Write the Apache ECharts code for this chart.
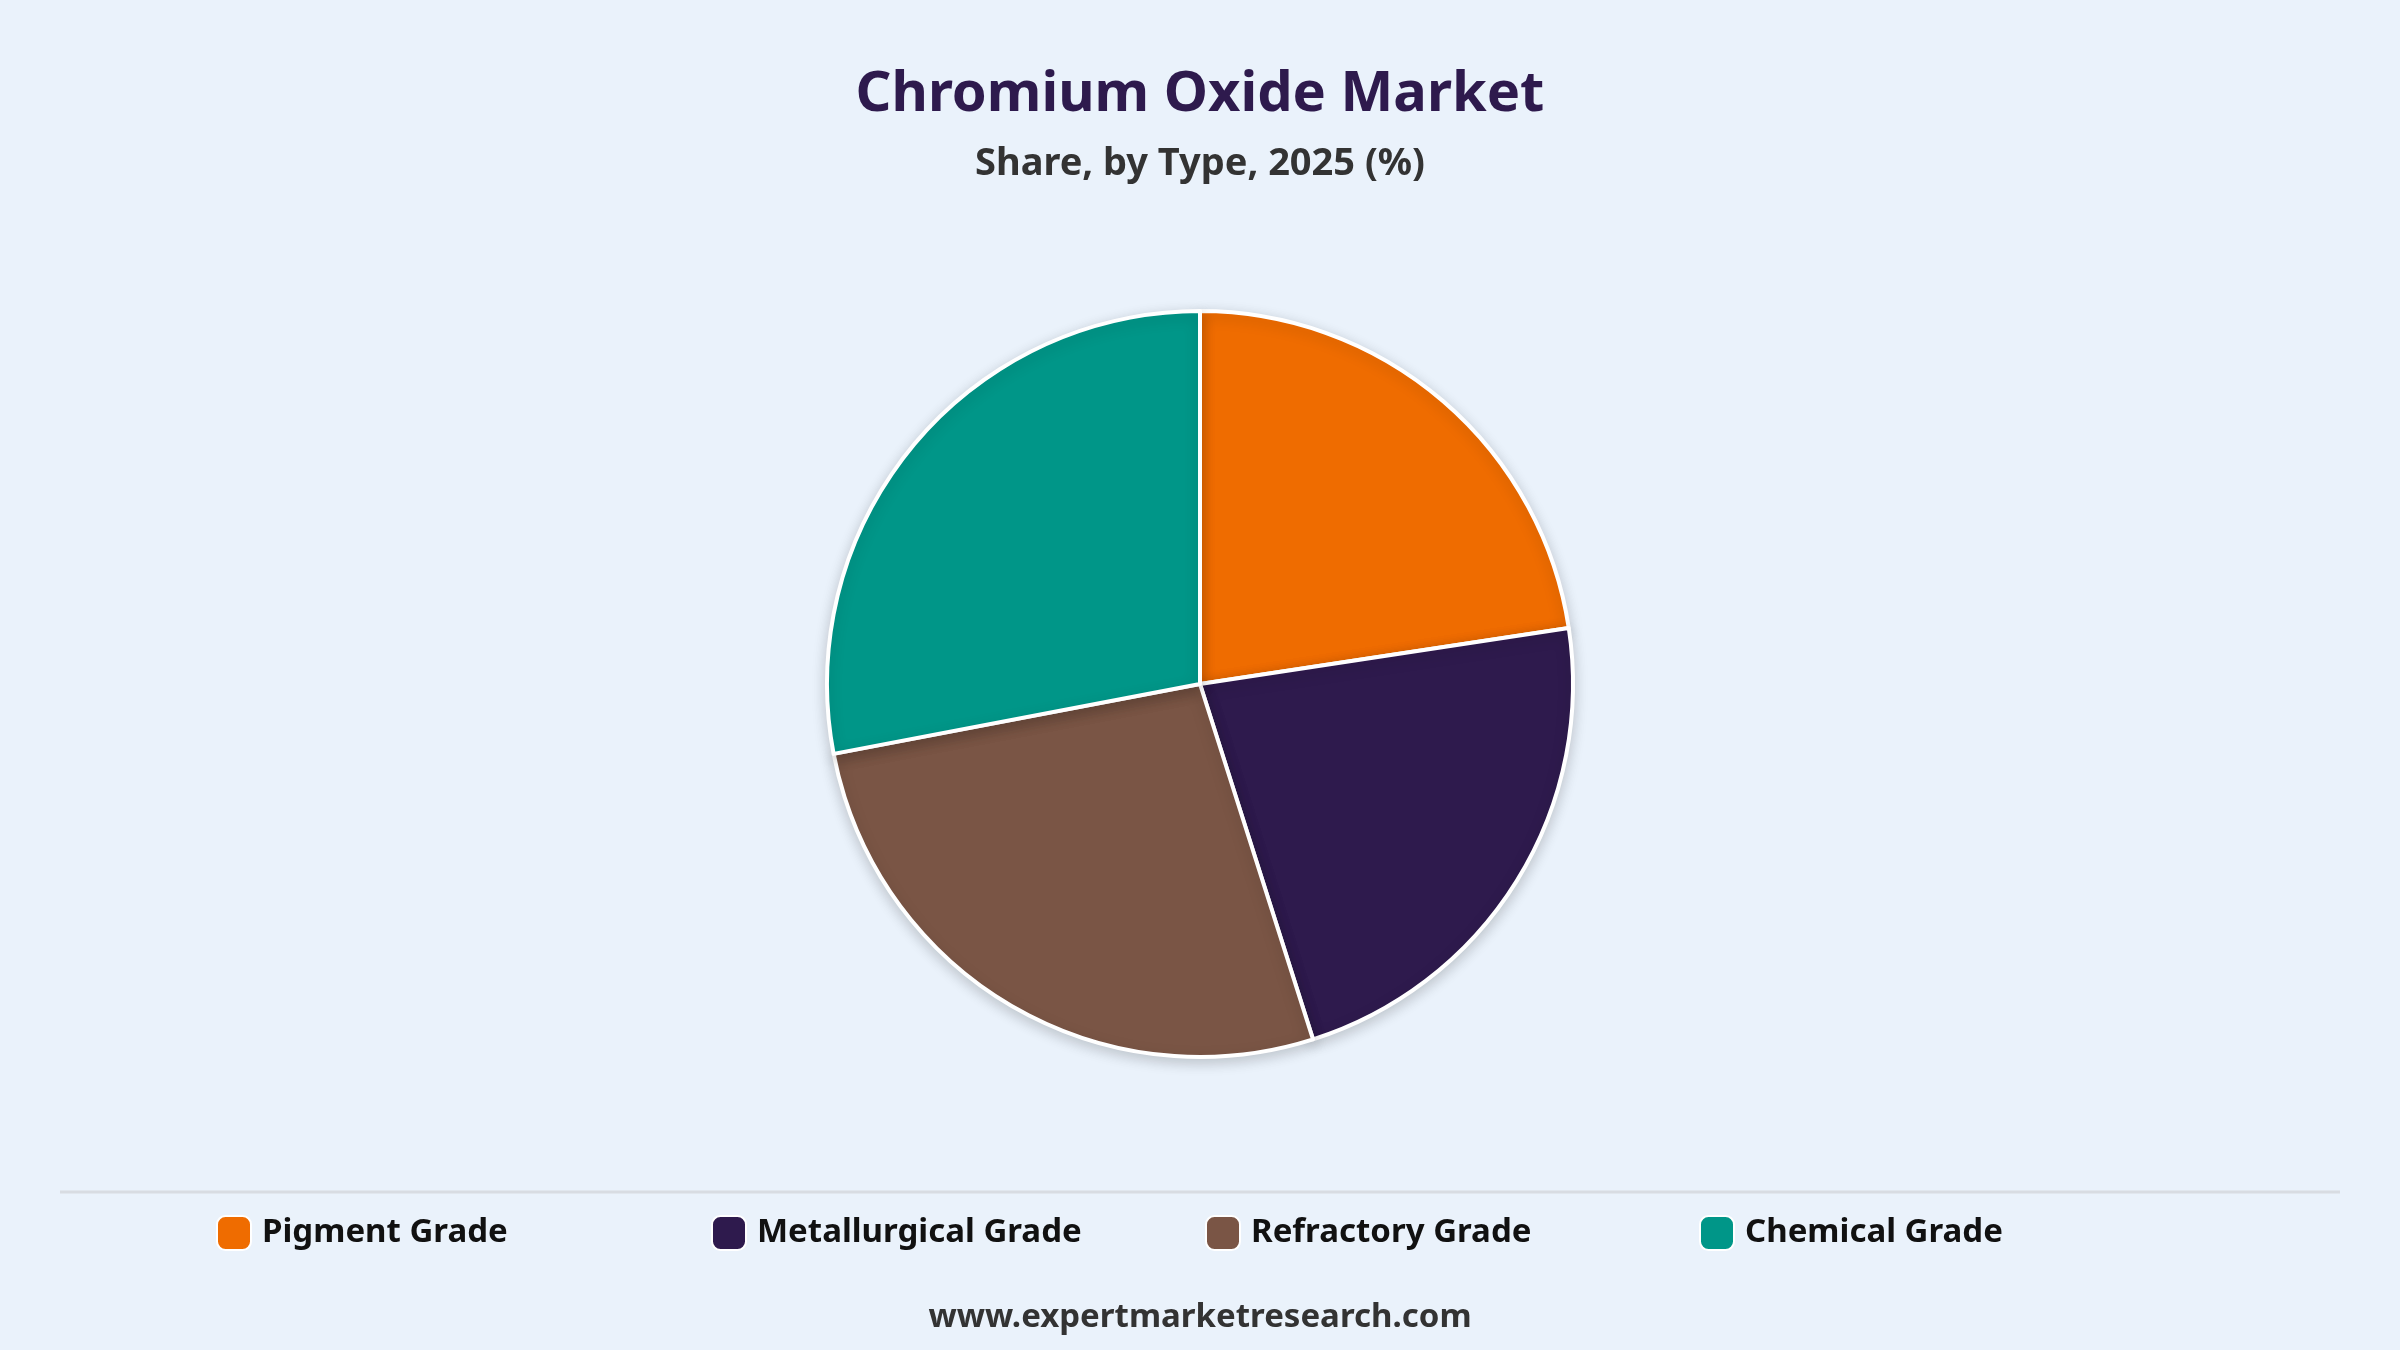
<!DOCTYPE html>
<html><head><meta charset="utf-8">
<script src="https://cdn.jsdelivr.net/npm/echarts@6/dist/echarts.min.js"></script>
<style>html,body{margin:0;padding:0;background:#EAF2FB}#c{width:2400px;height:1350px}</style>
</head><body><div id="c"></div>
<script>
const categories = ["Pigment Grade","Metallurgical Grade","Refractory Grade","Chemical Grade"];
const values = [22.6, 22.5, 26.9, 28.0];
const colors = ["#EF6C00","#2E1A4D","#7A5545","#009688"];
const legendX = [211, 706, 1200, 1694];
const F = '"Noto Sans", "Open Sans", sans-serif';
const chart = echarts.init(document.getElementById('c'));
chart.setOption({
  backgroundColor:'#EAF2FB',
  color: colors,
  title:[
    {text:'Chromium Oxide Market',left:'center',top:62,textStyle:{fontFamily:F,fontSize:56,fontWeight:'bold',color:'#2E1A4D'}},
    {text:'Share, by Type, 2025 (%)',left:'center',top:140,textStyle:{fontFamily:F,fontSize:38,fontWeight:'bold',color:'#333'}},
    {text:'www.expertmarketresearch.com',left:'center',top:1296,textStyle:{fontFamily:F,fontSize:33,fontWeight:'bold',color:'#333'}}
  ],
  legend: categories.map((c,i)=>({
    data:[c], left:legendX[i], top:1210, icon:'roundRect', itemWidth:34, itemHeight:34,
    selectedMode:false,
    textStyle:{fontFamily:F,fontSize:33,fontWeight:'bold',color:'#111',padding:[0,0,0,6]}
  })),
  graphic:[{type:'line',shape:{x1:60,y1:1192,x2:2340,y2:1192},style:{stroke:'#D8DCE2',lineWidth:3}}],
  series:[{
    type:'pie', center:[1200,684], radius:[0,373], startAngle:90, clockwise:true,
    label:{show:false}, labelLine:{show:false}, silent:true,
    itemStyle:{borderColor:'#fff',borderWidth:4,shadowBlur:14,shadowColor:'rgba(0,0,0,0.18)',shadowOffsetY:4},
    data: categories.map((c,i)=>({name:c,value:values[i]}))
  }]
});
</script></body></html>
